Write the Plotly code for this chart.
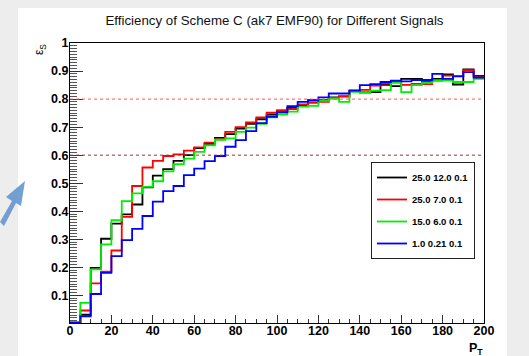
import plotly.graph_objects as go

# ---------------- data ----------------
pt_edges = [0, 5, 10, 15, 20, 25, 30, 35, 40, 45, 50, 55, 60, 65, 70, 75, 80, 85, 90, 95,
            100, 105, 110, 115, 120, 125, 130, 135, 140, 145, 150, 155, 160, 165, 170, 175,
            180, 185, 190, 195, 200]

series_names = ["25.0 12.0 0.1", "25.0 7.0 0.1", "15.0 6.0 0.1", "1.0 0.21 0.1"]

eff_black = [0.003, 0.031, 0.198, 0.302, 0.356, 0.389, 0.424, 0.485, 0.527, 0.550,
             0.580, 0.600, 0.625, 0.640, 0.662, 0.675, 0.695, 0.712, 0.728, 0.745,
             0.760, 0.769, 0.776, 0.796, 0.796, 0.806, 0.810, 0.830, 0.824, 0.825,
             0.851, 0.846, 0.872, 0.872, 0.865, 0.872, 0.888, 0.852, 0.906, 0.883]
eff_red = [0.003, 0.046, 0.143, 0.185, 0.260, 0.380, 0.490, 0.556, 0.580, 0.597,
           0.603, 0.616, 0.628, 0.645, 0.656, 0.683, 0.700, 0.717, 0.735, 0.752,
           0.758, 0.764, 0.781, 0.787, 0.790, 0.803, 0.810, 0.830, 0.833, 0.848,
           0.855, 0.862, 0.851, 0.854, 0.853, 0.866, 0.884, 0.882, 0.903, 0.880]
eff_green = [0.003, 0.073, 0.193, 0.282, 0.368, 0.436, 0.464, 0.487, 0.507, 0.542,
             0.568, 0.588, 0.612, 0.635, 0.655, 0.660, 0.683, 0.698, 0.712, 0.735,
             0.745, 0.755, 0.773, 0.776, 0.794, 0.802, 0.790, 0.826, 0.822, 0.830,
             0.832, 0.858, 0.825, 0.850, 0.858, 0.867, 0.867, 0.861, 0.861, 0.872]
eff_blue = [0.003, 0.025, 0.105, 0.180, 0.240, 0.297, 0.337, 0.383, 0.434, 0.472,
            0.490, 0.529, 0.552, 0.579, 0.597, 0.630, 0.654, 0.686, 0.714, 0.737,
            0.753, 0.775, 0.790, 0.795, 0.806, 0.820, 0.820, 0.830, 0.850, 0.853,
            0.861, 0.866, 0.863, 0.868, 0.868, 0.890, 0.872, 0.881, 0.896, 0.877]

reference_levels = [0.8, 0.6]

x_ticks = [0, 20, 40, 60, 80, 100, 120, 140, 160, 180, 200]

# ---------------- styling ----------------
colors = ["#000000", "#ff0000", "#00ee00", "#0000ff"]
W, H = 529, 356
L, R, T, B = 70, 45, 43, 33
PW, PH = W - L - R, H - T - B


def px2paper(px, py):
    return (px - L) / PW, (H - B - py) / PH


fig = go.Figure()

all_series = [eff_black, eff_red, eff_green, eff_blue]
for i, (name, vals) in enumerate(zip(series_names, all_series)):
    fig.add_trace(go.Scatter(
        x=pt_edges, y=vals + [vals[-1]], mode="lines", line_shape="hv",
        line=dict(color=colors[i], width=1.8), name=name, legendgroup=str(i),
    ))

# white canvas + grey surround
x0, y0 = px2paper(18, 8)
x1, y1 = px2paper(507, 360)
shapes = [dict(type="rect", xref="paper", yref="paper", x0=x0, y0=y1, x1=x1, y1=y0,
               fillcolor="white", line=dict(width=0), layer="below")]

# reference lines
shapes.append(dict(type="line", xref="x", yref="y", x0=0, x1=200,
                   y0=reference_levels[0], y1=reference_levels[0],
                   line=dict(color="#ff5555", width=1, dash="dot")))
shapes.append(dict(type="line", xref="x", yref="y", x0=0, x1=200,
                   y0=reference_levels[1], y1=reference_levels[1],
                   line=dict(color="#a03030", width=1, dash="3px,3px")))

# decorative arrow at the left edge (slide artifact)
arrow_px = [(0, 222), (12, 201), (6, 197), (25, 181), (21, 206), (16, 203), (4, 226)]
pts = [px2paper(a, b) for a, b in arrow_px]
path = "M " + " L ".join(f"{p[0]:.4f},{p[1]:.4f}" for p in pts) + " Z"
shapes.append(dict(type="path", xref="paper", yref="paper", path=path,
                   fillcolor="rgba(90,145,205,0.85)", line=dict(width=0), layer="above"))

fig.update_layout(shapes=shapes)

tickfont = dict(family="Liberation Sans", size=12.5, color="black", weight="bold")

fig.update_xaxes(
    range=[0, 200], tickmode="array", tickvals=x_ticks,
    ticks="inside", ticklen=8, tickwidth=1, tickcolor="#333",
    minor=dict(dtick=5, tick0=0, ticks="inside", ticklen=4, tickcolor="#333", tickwidth=1),
    showline=True, linecolor="black", linewidth=1, mirror=True,
    showgrid=False, zeroline=False, tickfont=tickfont, ticklabelstandoff=-4,
)
fig.update_yaxes(
    range=[0.0015, 1.0], tickmode="linear", tick0=0, dtick=0.1, tickformat="~g",
    ticks="inside", ticklen=13, tickwidth=1, tickcolor="#333",
    minor=dict(dtick=0.01, tick0=0, ticks="inside", ticklen=7, tickcolor="#555", tickwidth=1),
    showline=True, linecolor="black", linewidth=1, mirror=True,
    showgrid=False, zeroline=False, tickfont=tickfont, ticklabelstandoff=-2,
)

ax_x, ax_y = px2paper(40, 50)
xt_x, xt_y = px2paper(476, 339)
fig.update_layout(
    width=W, height=H,
    margin=dict(l=L, r=R, t=T, b=B, pad=0),
    paper_bgcolor="#ededed", plot_bgcolor="white",
    title=dict(text="Efficiency of Scheme C (ak7 EMF90) for Different Signals",
               x=274.5 / W, xanchor="center", y=1 - 20 / H, yanchor="middle",
               font=dict(family="Liberation Sans", size=13.3, color="#111")),
    showlegend=True,
    legend=dict(x=(371 - L) / PW, y=(H - B - 162) / PH, xanchor="left", yanchor="top",
                bgcolor="white", bordercolor="#222", borderwidth=1,
                font=dict(family="Liberation Sans", size=9.5, color="black", weight="bold"),
                itemwidth=30, tracegroupgap=3, traceorder="grouped"),
    annotations=[
        dict(text="ε<sub>S</sub>", xref="paper", yref="paper", x=ax_x, y=ax_y,
             xanchor="center", yanchor="middle",
             showarrow=False, textangle=-90,
             font=dict(family="Liberation Sans", size=12, color="black")),
        dict(text="<b>P<sub>T</sub></b>", xref="paper", yref="paper", x=xt_x, y=xt_y,
             xanchor="center", yanchor="top",
             showarrow=False, font=dict(family="Liberation Sans", size=12.5, color="black")),
    ],
)

fig.write_html("out.html")
